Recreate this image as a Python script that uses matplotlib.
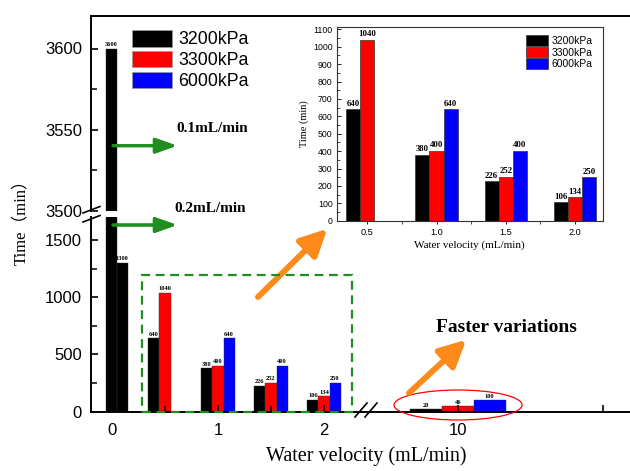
import numpy as np
import matplotlib
matplotlib.use('Agg')
import matplotlib.pyplot as plt
from matplotlib.patches import Ellipse, Rectangle, Patch
from matplotlib.lines import Line2D
from matplotlib.ticker import FixedLocator

# ---------------- data ----------------
pressures = ['3200kPa', '3300kPa', '6000kPa']
bar_colors = ['#000000', '#ff0000', '#0000ff']
velocities = [0.1, 0.2, 0.5, 1.0, 1.5, 2.0, 10]
t_3200 = [3600, 1300, 640, 380, 226, 106, 20]
t_3300 = [np.nan, np.nan, 1040, 400, 252, 134, 46]
t_6000 = [np.nan, np.nan, np.nan, 640, 400, 250, 100]
series = [t_3200, t_3300, t_6000]

main_xticks = [0, 1, 2]
main_xticklabels = ['0', '1', '2']
far_ticklabel = '10'
inset_velocities = [0.5, 1.0, 1.5, 2.0]
inset_xticklabels = ['0.5', '1.0', '1.5', '2.0']

SANS = 'Liberation Sans'
SERIF = 'Liberation Serif'

# ---------------- layout (pixels) ----------------
W, H = 630, 471
fig = plt.figure(figsize=(W / 100, H / 100), dpi=100)


def fx(px):
    return px / W


def fy(py):
    return 1 - py / H


L, R = 90.7, 634
TOP, BRK_UP, BRK_LO, BOT = 16, 211, 217, 411.7
XBRK = 366
X0PX, PXU = 112, 106        # main x: 0 at 112px, 106 px per unit
X10PX, PXU10 = 457.7, 307.7  # far segment: 10 at 457.7px
w = 0.104

ax_up = fig.add_axes([fx(L), fy(BRK_UP), fx(R) - fx(L), fy(TOP) - fy(BRK_UP)])
ax_lo = fig.add_axes([fx(L), fy(BOT), fx(XBRK) - fx(L), fy(BRK_LO) - fy(BOT)])
ax_far = fig.add_axes([fx(XBRK), fy(BOT), fx(R) - fx(XBRK), fy(BRK_LO) - fy(BOT)])

ax_up.set_xlim((L - X0PX) / PXU, (R - X0PX) / PXU)
ax_lo.set_xlim((L - X0PX) / PXU, (XBRK - X0PX) / PXU)
ax_far.set_xlim(10 + (XBRK - X10PX) / PXU10, 10 + (R - X10PX) / PXU10)
ax_up.set_ylim(3500, 3620)
ax_lo.set_ylim(0, 1700)
ax_far.set_ylim(0, 1700)

for ax in (ax_up, ax_lo, ax_far):
    ax.patch.set_alpha(0)
    for s in ax.spines.values():
        s.set_linewidth(1.4)
        s.set_visible(False)
ax_up.spines['left'].set_visible(True)
ax_up.spines['top'].set_visible(True)
ax_lo.spines['left'].set_visible(True)
ax_lo.spines['bottom'].set_visible(True)
ax_far.spines['bottom'].set_visible(True)


def bar_label(ax, x, v, fs, lo, hi):
    if np.isfinite(v) and lo <= v <= hi:
        ax.annotate(f'{int(v)}', (x, v), xytext=(0, 1.2), textcoords='offset points',
                    ha='center', va='bottom', fontsize=fs, fontweight='bold', family=SERIF)


for i, (s, c) in enumerate(zip(series, bar_colors)):
    off = (i - 1) * w
    for v, t in zip(velocities, s):
        if not np.isfinite(t):
            continue
        if v <= 2:
            ax_up.bar(v + off, t, width=w, color=c, edgecolor='#333333', linewidth=0.3)
            ax_lo.bar(v + off, t, width=w, color=c, edgecolor='#333333', linewidth=0.3)
            bar_label(ax_up, v + off, t, 4.6, 3500, 3620)
            bar_label(ax_lo, v + off, t, 4.6, 0, 1690)
        else:
            ax_far.bar(v + off, t, width=w, color=c, edgecolor='#333333', linewidth=0.3)
            bar_label(ax_far, v + off, t, 4.6, 0, 1690)

# ticks
ax_up.set_xticks([])
ax_up.set_yticks([3500, 3550, 3600])
ax_up.yaxis.set_minor_locator(FixedLocator([3525, 3575]))
ax_lo.set_yticks([0, 500, 1000, 1500])
ax_lo.yaxis.set_minor_locator(FixedLocator([250, 750, 1250]))
ax_lo.set_xticks(main_xticks)
ax_lo.set_xticklabels(main_xticklabels)
ax_lo.xaxis.set_minor_locator(FixedLocator([0.5, 1.5]))
ax_far.set_yticks([])
ax_far.set_xticks([10, 10 + (602.7 - X10PX) / PXU10])
ax_far.set_xticklabels([far_ticklabel, ''])

for ax in (ax_up, ax_lo, ax_far):
    ax.tick_params(which='major', direction='in', length=5, width=1.2,
                   labelsize=12, pad=6.3)
    ax.tick_params(which='minor', direction='in', length=4, width=1.1)
    ax.tick_params(axis='x', pad=8)
    for lab in ax.get_xticklabels() + ax.get_yticklabels():
        lab.set_family(SANS)

# axis labels
fig.text(fx(21), fy(218), 'Time（min）', rotation=90, ha='center', va='center',
         fontsize=12, family=[SERIF, 'Noto Sans CJK SC'])
fig.text(fx(366), fy(456), 'Water velocity (mL/min)', ha='center', va='center',
         fontsize=14.5, family=SERIF)

# break marks
for (x1, y1, x2, y2) in [(83, 213, 100, 206.5), (83, 222, 100, 215.5),
                         (355, 417, 367, 403), (365, 417, 377, 403)]:
    fig.add_artist(Line2D([fx(x1), fx(x2)], [fy(y1), fy(y2)], color='black', lw=1.2,
                          transform=fig.transFigure))

# main legend
handles = [Patch(facecolor=c, edgecolor='#999999', linewidth=0.5) for c in bar_colors]
fig.legend(handles, pressures, loc='upper left', bbox_to_anchor=(fx(132), fy(30)),
           frameon=False, fontsize=12.75, prop={'family': SANS, 'size': 12.75},
           handlelength=2.26, handleheight=1.07, handletextpad=0.34,
           labelspacing=0.14, borderpad=0, borderaxespad=0)

# green arrows and labels
green = '#1e8f1e'
for (y, txt, tx, ty) in [(145.7, '0.1mL/min', 176, 129), (225, '0.2mL/min', 174, 208)]:
    fig.add_artist(plt.annotate('', xy=(fx(177), fy(y)), xytext=(fx(113), fy(y)),
                                xycoords='figure fraction', textcoords='figure fraction',
                                arrowprops=dict(arrowstyle='-|>,head_length=0.65,head_width=0.23',
                                                mutation_scale=20, lw=2.2, color=green,
                                                shrinkA=0, shrinkB=0)))
    fig.text(fx(tx), fy(ty), txt, ha='left', va='center', fontsize=11,
             fontweight='bold', family=SERIF)

# green dashed box
fig.add_artist(Rectangle((fx(142), fy(411.7)), fx(352) - fx(142), fy(275) - fy(411.7),
                         transform=fig.transFigure, fill=False, ec=green, lw=1.6,
                         linestyle=(0, (4, 2.5)), zorder=5))

# orange arrows
orange = '#ff8a1c'
for (x1, y1, x2, y2) in [(258, 297, 327, 229), (409, 393, 466, 340)]:
    fig.add_artist(plt.annotate('', xy=(fx(x2), fy(y2)), xytext=(fx(x1), fy(y1)),
                                xycoords='figure fraction', textcoords='figure fraction',
                                arrowprops=dict(arrowstyle='-|>,head_length=0.8,head_width=0.4',
                                                mutation_scale=20, lw=4, color=orange,
                                                shrinkA=0, shrinkB=0)))

fig.text(fx(436), fy(328), 'Faster variations', ha='left', va='center', fontsize=14,
         fontweight='bold', family=SERIF)

fig.add_artist(Ellipse((fx(458), fy(405)), 128 / W, 30 / H, transform=fig.transFigure,
                       fill=False, ec='red', lw=0.9))

# ---------------- inset ----------------
IL, IR, IT, IB = 336.7, 602.7, 26.7, 220.7
ax_in = fig.add_axes([fx(IL), fy(IB), fx(IR) - fx(IL), fy(IT) - fy(IB)])
ipx = (575 - 367.3) / 1.5
ax_in.set_xlim(0.5 - (367.3 - IL) / ipx, 2.0 + (IR - 575) / ipx)
ax_in.set_ylim(0, 1115)
wi = 0.102
for i, (s, c) in enumerate(zip(series, bar_colors)):
    off = (i - 1) * wi
    for v, t in zip(velocities, s):
        if v in inset_velocities and np.isfinite(t):
            ax_in.bar(v + off, t, width=wi, color=c, edgecolor='#333333', linewidth=0.5)
            bar_label(ax_in, v + off, t, 6.3, 0, 1115)

ax_in.set_xticks(inset_velocities)
ax_in.set_xticklabels(inset_xticklabels)
ax_in.xaxis.set_minor_locator(FixedLocator([0.75, 1.25, 1.75]))
ax_in.set_yticks(np.arange(0, 1101, 100))
ax_in.yaxis.set_minor_locator(FixedLocator(np.arange(50, 1100, 100)))
ax_in.tick_params(axis='y', which='major', direction='in', length=3, width=0.6,
                  labelsize=6.3, pad=3)
ax_in.tick_params(axis='y', which='minor', direction='in', length=1.8, width=0.5)
ax_in.tick_params(axis='x', which='major', direction='out', length=2.5, width=0.6,
                  labelsize=6.6, pad=3)
ax_in.tick_params(axis='x', which='minor', direction='out', length=1.8, width=0.5)
for lab in ax_in.get_xticklabels() + ax_in.get_yticklabels():
    lab.set_family(SANS)
for s in ax_in.spines.values():
    s.set_linewidth(0.8)
    s.set_color('#333333')
ax_in.set_ylabel('Time (min)', fontsize=7.5, family=SERIF, labelpad=3)
ax_in.set_xlabel('Water velocity (mL/min)', fontsize=8, family=SERIF, labelpad=2)

ih = [Patch(facecolor=c, edgecolor='#444444', linewidth=0.6) for c in bar_colors]
ax_in.legend(ih, pressures, loc='upper left', bbox_to_anchor=(fx(526), fy(35.5)),
             bbox_transform=fig.transFigure, frameon=False,
             prop={'family': SANS, 'size': 7.5}, handlelength=2.1, handleheight=1.15,
             handletextpad=0.33, labelspacing=0.07, borderpad=0, borderaxespad=0)

fig.savefig('out.png', dpi=100)
